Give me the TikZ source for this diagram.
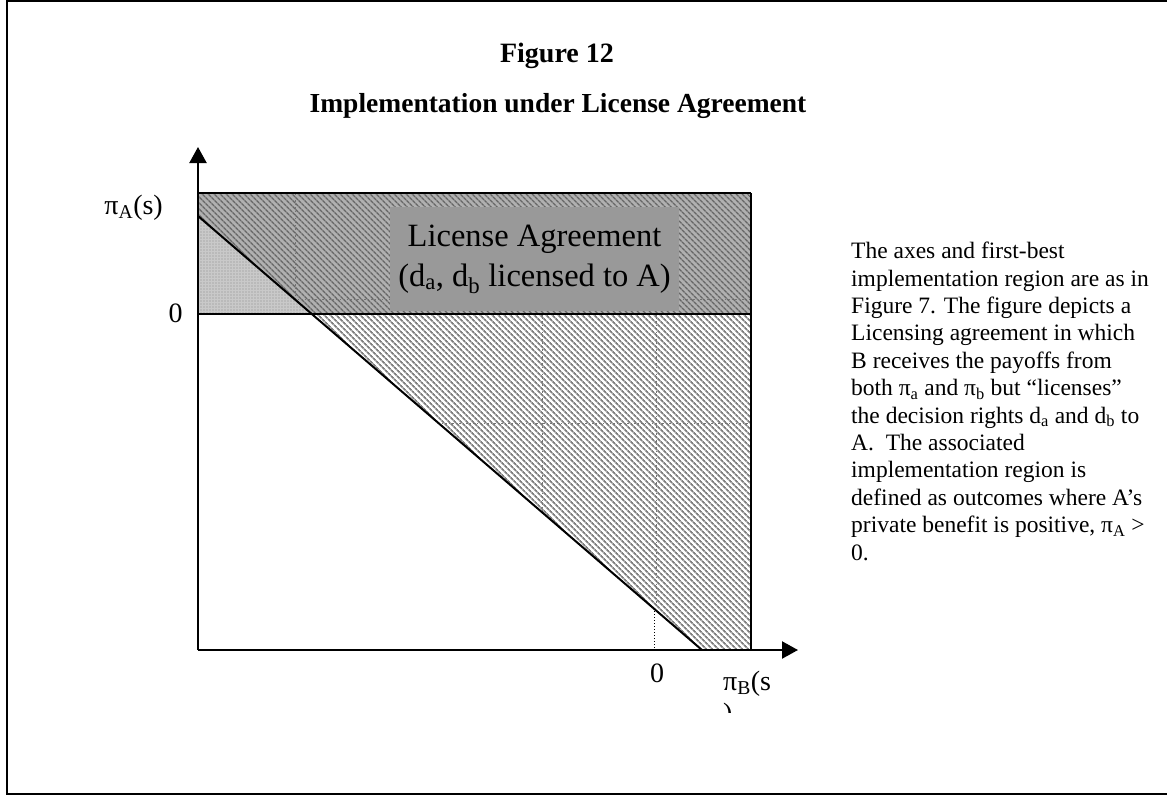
\documentclass[tikz,border=0pt]{standalone}
\usepackage{fontspec}
\setmainfont{Liberation Serif}
\usetikzlibrary{arrows.meta,patterns.meta}

\begin{document}
\begin{tikzpicture}[x=1pt,y=-1pt,
  frameline/.style={line width=2pt},
  axisline/.style={line width=2.2pt,-{Triangle[length=16pt,width=17pt]}},
  edgeline/.style={line width=2pt},
  gridline/.style={black!55,line width=0.8pt,dash pattern=on 1.5pt off 2pt},
  dotline/.style={black,line width=1pt,dash pattern=on 1pt off 2pt},
  lbl/.style={font=\fontsize{28}{32}\selectfont,inner sep=0pt},
  figtext/.style={font=\fontsize{28}{32}\selectfont\bfseries,inner sep=0pt},
  titletext/.style={font=\fontsize{27.5}{32}\selectfont\bfseries,inner sep=0pt},
  lighttex/.style={fill=gray!42,postaction={pattern={Dots[radius=0.6pt,distance=3pt]},pattern color=black!45}},
  darktex/.style={fill=gray!62,postaction={pattern={Lines[angle=-45,distance=4pt,line width=1.6pt]},pattern color=black!60}},
  hatchtex/.style={pattern={Lines[angle=-45,distance=4pt,line width=1.8pt]},pattern color=black!50},
  licbox/.style={fill=black!40,minimum width=289pt,minimum height=104pt,inner sep=0pt,align=center,
    font=\fontsize{32.5}{40}\selectfont},
  notetext/.style={font=\fontsize{23.5}{27.4}\selectfont,align=left,inner sep=0pt,anchor=north west}
]
\useasboundingbox (0,0) rectangle (1167,796);

% outer frame (open on the right)
\coordinate (fTR) at (1167,1);
\coordinate (fTL) at (7,1);
\coordinate (fBL) at (7,794);
\coordinate (fBR) at (1167,794);
\draw[frameline] (fTR) -- (fTL) -- (fBL) -- (fBR);

% key points of the plot
\coordinate (O)    at (198,650);
\coordinate (ytip) at (198,147);
\coordinate (xtip) at (798,650);
\coordinate (TL)   at (198,193);
\coordinate (TR)   at (751,193);
\coordinate (ZL)   at (198,314);
\coordinate (ZR)   at (751,314);
\coordinate (BR)   at (751,650);
\coordinate (D0)   at (198,216);
\coordinate (DZ)   at (312,314);
\coordinate (DX)   at (702,650);

% shaded regions
\fill[lighttex] (D0) -- (DZ) -- (ZL) -- cycle;
\fill[darktex] (TL) -- (TR) -- (ZR) -- (DZ) -- (D0) -- cycle;
\path[hatchtex] (DZ) -- (ZR) -- (BR) -- (DX) -- cycle;

% first-best region guides
\coordinate (g1a) at (295,193);
\coordinate (g1b) at (295,299);
\coordinate (g1c) at (751,299);
\draw[gridline] (g1a) -- (g1b) -- (g1c);
\coordinate (g2a) at (542,314);
\coordinate (g2b) at (542,512);
\draw[gridline] (g2a) -- (g2b);
\coordinate (g3a) at (656,314);
\coordinate (g3b) at (656,608);
\draw[gridline] (g3a) -- (g3b);
\coordinate (g4a) at (438,423);
\coordinate (g4b) at (751,423);
\draw[gridline] (g4a) -- (g4b);
\coordinate (zb) at (654,608);
\coordinate (zx) at (654,650);
\draw[dotline] (zb) -- (zx);

% boundaries
\draw[edgeline] (TL) -- (TR);
\draw[edgeline] (ZL) -- (ZR);
\draw[line width=2.6pt] (TR) -- (BR);
\draw[edgeline] (D0) -- (DX);

% axes
\draw[axisline] (O) -- (ytip);
\draw[axisline] (O) -- (xtip);

% label box
\node[licbox] (lic) at (534.5,259) {License Agreement\\(d\textsubscript{a}, d\textsubscript{b} licensed to A)};

% axis labels
\node[lbl,anchor=base east] (piA) at (163,214) {π\textsubscript{A}(s)};
\node[lbl] (zeroA) at (175.5,313) {0};
\node[lbl] (zeroB) at (657,673) {0};
\node[lbl,anchor=base west] (piB) at (723,690) {π\textsubscript{B}(s};
\begin{scope}
  \clip (715,700) rectangle (745,712);
  \node[lbl,anchor=base west] (piBend) at (723,722) {)};
\end{scope}

% titles
\node[figtext,anchor=base] (fig) at (557,62) {Figure 12};
\node[titletext,anchor=base] (ttl) at (558,112) {Implementation under License Agreement};

% explanatory note
\node[notetext] (note) at (851,242) {The axes and first-best\\
implementation region are as in\\
Figure 7. The figure depicts a\\
Licensing agreement in which\\
B receives the payoffs from\\
both π\textsubscript{a} and π\textsubscript{b} but “licenses”\\
the decision rights d\textsubscript{a} and d\textsubscript{b} to\\
A.\ \ The associated\\
implementation region is\\
defined as outcomes where A’s\\
private benefit is positive, π\textsubscript{A} >\\
0.};
\end{tikzpicture}
\end{document}
